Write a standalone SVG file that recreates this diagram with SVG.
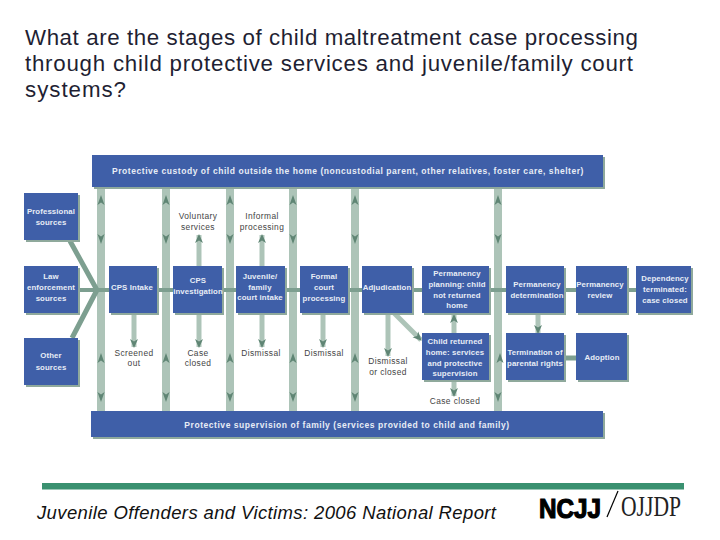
<svg xmlns="http://www.w3.org/2000/svg" width="720" height="540" viewBox="0 0 720 540">
<style>
text{font-family:"Liberation Sans",Arial,sans-serif}
.title{font-size:22.300px;fill:#1f1f33}
.box{fill:#3f5fa8}
.sh{fill:#8fa99c}
.w{font-size:7.800px;font-weight:bold;fill:#e8edf6;text-anchor:middle;letter-spacing:.12px}
.bar{font-size:8.500px;font-weight:bold;fill:#e8edf6;text-anchor:middle;letter-spacing:.55px}
.k{font-size:8.400px;fill:#444;text-anchor:middle;letter-spacing:.4px}
.band{stroke:#adc4b8;stroke-width:8;fill:none}
.main{stroke:#7d9f90;stroke-width:4;fill:none}
.diag{stroke:#7d9f90;stroke-width:5;fill:none}
.arr{stroke:#adc4b8;stroke-width:5;fill:none}
.head{fill:#5f8574}
</style>
<defs>
<path id="up" class="head" d="M0-5L3.500 5L0 2.500L-3.500 5Z"/>
<path id="dn" class="head" d="M0 5L3.500-5L0-2.500L-3.500-5Z"/>
<marker id="m" markerUnits="userSpaceOnUse" markerWidth="10" markerHeight="12" refX="8" refY="5" orient="auto"><path class="head" d="M9 5L0 1L2.500 5L0 9Z"/></marker>
</defs>
<text class="title" x="25" y="45" textLength="613" lengthAdjust="spacing">What are the stages of child maltreatment case processing</text>
<text class="title" x="25" y="71" textLength="608" lengthAdjust="spacing">through child protective services and juvenile/family court</text>
<text class="title" x="25" y="97" textLength="101" lengthAdjust="spacing">systems?</text>

<g id="connectors">
<path class="band" d="M101 187V411M166 187V411M230 187V411M293 187V411M355 187V411M498 187V411"/>
<path class="main" d="M78 290H636"/>
<path class="main" d="M564 358H576" style="stroke-width:5"/>
<path class="diag" d="M70 241L97 290L72 338"/>
<g>
<path class="arr" d="M199 266V235" marker-end="url(#m)"/>
<path class="arr" d="M262 266V235" marker-end="url(#m)"/>
<path class="arr" d="M134 313V347" marker-end="url(#m)"/>
<path class="arr" d="M199 313V347" marker-end="url(#m)"/>
<path class="arr" d="M262 313V347" marker-end="url(#m)"/>
<path class="arr" d="M323 313V347" marker-end="url(#m)"/>
<path class="arr" d="M388 313V356" marker-end="url(#m)"/>
<path class="arr" d="M394 313L421 340" marker-end="url(#m)"/>
<path class="arr" d="M454 333V315" marker-end="url(#m)"/>
<path class="arr" d="M454 380V396" marker-end="url(#m)"/>
<path class="arr" d="M538 313V333" marker-end="url(#m)"/>
</g>
<g>
<use href="#up" x="101" y="200"/><use href="#dn" x="101" y="239"/><use href="#up" x="101" y="358"/><use href="#dn" x="101" y="397"/>
<use href="#up" x="166" y="200"/><use href="#dn" x="166" y="239"/><use href="#up" x="166" y="358"/><use href="#dn" x="166" y="397"/>
<use href="#up" x="230" y="200"/><use href="#dn" x="230" y="239"/><use href="#up" x="230" y="358"/><use href="#dn" x="230" y="397"/>
<use href="#up" x="293" y="200"/><use href="#dn" x="293" y="239"/><use href="#up" x="293" y="358"/><use href="#dn" x="293" y="397"/>
<use href="#up" x="355" y="200"/><use href="#dn" x="355" y="239"/><use href="#up" x="355" y="358"/><use href="#dn" x="355" y="397"/>
<use href="#up" x="498" y="200"/><use href="#dn" x="498" y="239"/><use href="#up" x="500" y="358"/><use href="#dn" x="498" y="397"/>
</g>
</g>

<g id="custody"><rect class="sh" x="94" y="157" width="511" height="32"/><rect class="box" x="92" y="155" width="511" height="32"/><text class="bar" x="348" y="174">Protective custody of child outside the home (noncustodial parent, other relatives, foster care, shelter)</text></g>
<g id="supervision"><rect class="sh" x="93" y="413" width="512" height="26"/><rect class="box" x="91" y="411" width="512" height="26"/><text class="bar" x="347" y="428">Protective supervision of family (services provided to child and family)</text></g>

<g id="professional"><rect class="sh" x="26" y="195" width="54" height="47"/><rect class="box" x="24" y="193" width="54" height="47"/><text class="w" x="51" y="214">Professional</text><text class="w" x="51" y="225">sources</text></g>
<g id="law"><rect class="sh" x="26" y="268" width="54" height="47"/><rect class="box" x="24" y="266" width="54" height="47"/><text class="w" x="51" y="279">Law</text><text class="w" x="51" y="290">enforcement</text><text class="w" x="51" y="301">sources</text></g>
<g id="other"><rect class="sh" x="26" y="340" width="54" height="47"/><rect class="box" x="24" y="338" width="54" height="47"/><text class="w" x="51" y="358">Other</text><text class="w" x="51" y="370">sources</text></g>
<g id="intake"><rect class="sh" x="111" y="268" width="48" height="47"/><rect class="box" x="109" y="266" width="48" height="47"/><text class="w" x="132" y="290">CPS Intake</text></g>
<g id="investigation"><rect class="sh" x="175" y="268" width="49" height="47"/><rect class="box" x="173" y="266" width="49" height="47"/><text class="w" x="198" y="283">CPS</text><text class="w" x="198" y="294">investigation</text></g>
<g id="juvenile"><rect class="sh" x="238" y="268" width="49" height="47"/><rect class="box" x="236" y="266" width="49" height="47"/><text class="w" x="260" y="279">Juvenile/</text><text class="w" x="260" y="290">family</text><text class="w" x="260" y="300">court intake</text></g>
<g id="formal"><rect class="sh" x="302" y="268" width="48" height="47"/><rect class="box" x="300" y="266" width="48" height="47"/><text class="w" x="324" y="279">Formal</text><text class="w" x="324" y="290">court</text><text class="w" x="324" y="301">processing</text></g>
<g id="adjudication"><rect class="sh" x="364" y="268" width="50" height="47"/><rect class="box" x="362" y="266" width="50" height="47"/><text class="w" x="387" y="290">Adjudication</text></g>
<g id="planning"><rect class="sh" x="424" y="268" width="67" height="47"/><rect class="box" x="422" y="266" width="67" height="47"/><text class="w" x="457" y="276">Permanency</text><text class="w" x="457" y="287">planning: child</text><text class="w" x="457" y="298">not returned</text><text class="w" x="457" y="308">home</text></g>
<g id="determination"><rect class="sh" x="508" y="268" width="58" height="47"/><rect class="box" x="506" y="266" width="58" height="47"/><text class="w" x="537" y="287">Permanency</text><text class="w" x="537" y="298">determination</text></g>
<g id="review"><rect class="sh" x="578" y="268" width="51" height="47"/><rect class="box" x="576" y="266" width="51" height="47"/><text class="w" x="600" y="287">Permanency</text><text class="w" x="600" y="298">review</text></g>
<g id="dependency"><rect class="sh" x="638" y="268" width="55" height="47"/><rect class="box" x="636" y="266" width="55" height="47"/><text class="w" x="665" y="281">Dependency</text><text class="w" x="665" y="292">terminated:</text><text class="w" x="665" y="303">case closed</text></g>
<g id="returned"><rect class="sh" x="424" y="335" width="67" height="47"/><rect class="box" x="422" y="333" width="67" height="47"/><text class="w" x="455" y="344">Child returned</text><text class="w" x="455" y="355">home: services</text><text class="w" x="455" y="366">and protective</text><text class="w" x="455" y="376">supervision</text></g>
<g id="termination"><rect class="sh" x="508" y="335" width="58" height="47"/><rect class="box" x="506" y="333" width="58" height="47"/><text class="w" x="535" y="355">Termination of</text><text class="w" x="535" y="366">parental rights</text></g>
<g id="adoption"><rect class="sh" x="578" y="335" width="51" height="47"/><rect class="box" x="576" y="333" width="51" height="47"/><text class="w" x="602" y="360">Adoption</text></g>

<g id="labels">
<text class="k" x="198" y="219">Voluntary</text><text class="k" x="198" y="230">services</text>
<text class="k" x="262" y="219">Informal</text><text class="k" x="262" y="230">processing</text>
<text class="k" x="134" y="356">Screened</text><text class="k" x="134" y="366">out</text>
<text class="k" x="198" y="356">Case</text><text class="k" x="198" y="366">closed</text>
<text class="k" x="261" y="356">Dismissal</text>
<text class="k" x="324" y="356">Dismissal</text>
<text class="k" x="388" y="364">Dismissal</text><text class="k" x="388" y="375">or closed</text>
<text class="k" x="455" y="404">Case closed</text>
</g>

<rect x="42" y="483" width="642" height="6.500" fill="#3a9170"/>
<text x="37" y="519" font-size="18.500" font-style="italic" fill="#111" textLength="459" lengthAdjust="spacing">Juvenile Offenders and Victims: 2006 National Report</text>
<g id="logo">
<text x="539" y="518" font-size="27" font-weight="bold" fill="#000" stroke="#000" stroke-width="1.2" textLength="62" lengthAdjust="spacingAndGlyphs">NCJJ</text>
<path d="M607 517L618 491" stroke="#000" stroke-width="1.200"/>
<text x="621" y="516" font-size="29" style="font-family:'Liberation Serif',serif" fill="#222" textLength="60" lengthAdjust="spacingAndGlyphs">OJJDP</text>
</g>
</svg>
